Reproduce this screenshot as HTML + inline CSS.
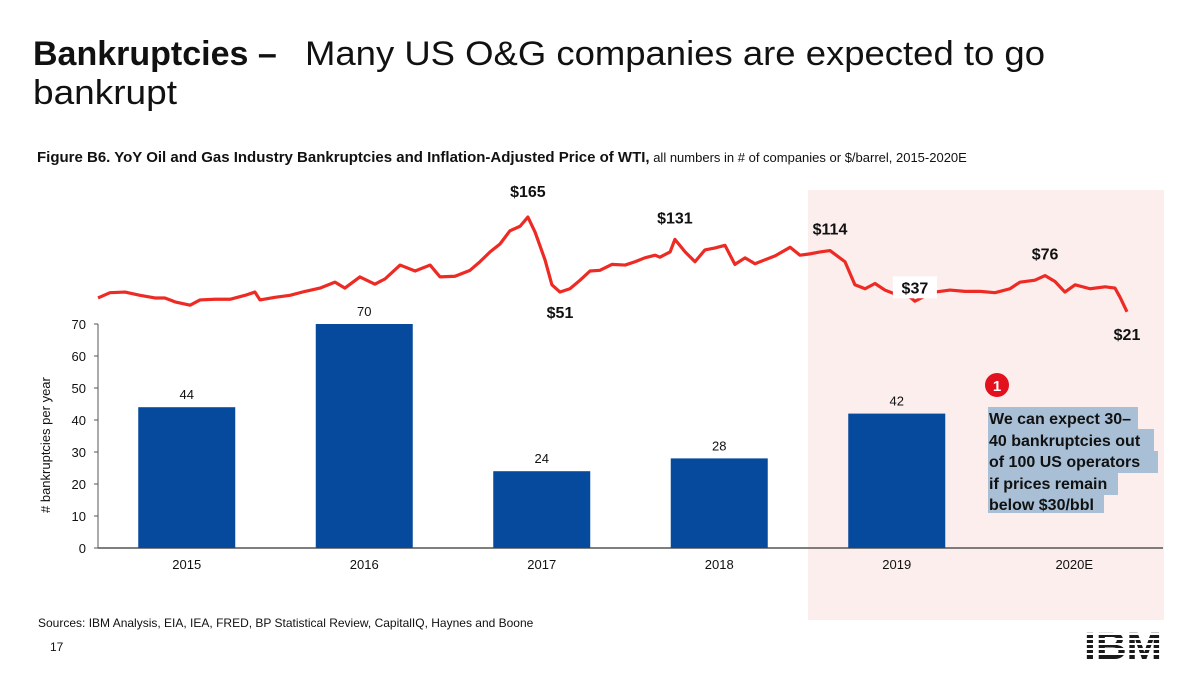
<!DOCTYPE html>
<html><head><meta charset="utf-8"><style>
body{margin:0;background:#fff;font-family:"Liberation Sans",Arial,sans-serif;}
svg text{font-family:"Liberation Sans",Arial,sans-serif;}
</style></head><body>
<svg id="c" width="1200" height="674" viewBox="0 0 1200 674" xmlns="http://www.w3.org/2000/svg">
<rect x="808" y="190" width="356" height="430" fill="#fdeeee"/>
<text x="33" y="65" font-size="34" fill="#111"><tspan font-weight="bold">Bankruptcies –</tspan><tspan x="305" textLength="740" lengthAdjust="spacingAndGlyphs">Many US O&amp;G companies are expected to go</tspan></text>
<text x="33" y="104" font-size="34" fill="#111" textLength="144" lengthAdjust="spacingAndGlyphs">bankrupt</text>
<text x="37" y="162" font-size="15" fill="#111"><tspan font-weight="bold">Figure B6. YoY Oil and Gas Industry Bankruptcies and Inflation-Adjusted Price of WTI,</tspan><tspan font-size="13"> all numbers in # of companies or $/barrel, 2015-2020E</tspan></text>
<g id="axes"></g><g id="bars"></g><g id="line"></g>
<text x="50" y="513" font-size="13" fill="#111" transform="rotate(-90 50 513)"># bankruptcies per year</text>
<circle cx="997" cy="385" r="12" fill="#e3101e"/>
<text x="997" y="391" font-size="15" font-weight="bold" fill="#fff" text-anchor="middle">1</text>
<g fill="#a8bfd6">
<rect x="988" y="407" width="150" height="22"/><rect x="988" y="429" width="166" height="22"/><rect x="988" y="451" width="170" height="22"/><rect x="988" y="473" width="130" height="22"/><rect x="988" y="495" width="116" height="18"/></g>
<text font-size="16" font-weight="bold" fill="#111">
<tspan x="989" y="424">We can expect 30–</tspan><tspan x="989" y="446">40 bankruptcies out</tspan><tspan x="989" y="467">of 100 US operators</tspan><tspan x="989" y="489">if prices remain</tspan><tspan x="989" y="510">below $30/bbl</tspan></text>
<text x="38" y="627" font-size="12" fill="#111">Sources: IBM Analysis, EIA, IEA, FRED, BP Statistical Review, CapitalIQ, Haynes and Boone</text>
<text x="50" y="651" font-size="12" fill="#111">17</text>
<text x="1123" y="659" font-size="38" font-weight="bold" fill="#1a1a1a" text-anchor="middle" textLength="78" lengthAdjust="spacingAndGlyphs">IBM</text>
<g fill="#fff"><rect x="1080" y="628" width="90" height="2"/><rect x="1080" y="633" width="90" height="2"/><rect x="1080" y="638" width="90" height="2"/><rect x="1080" y="643" width="90" height="2"/><rect x="1080" y="648" width="90" height="2"/><rect x="1080" y="653" width="90" height="2"/></g>
</svg>
<script>
const categories=["2015","2016","2017","2018","2019","2020E"];
const bankruptcies=[44,70,24,28,42,null];
const yTicks=[0,10,20,30,40,50,60,70];
const years=[1986.0,1986.4,1986.9,1987.4,1987.9,1988.23,1988.57,1989.07,1989.4,1989.9,1990.4,1990.9,1991.23,1991.4,1991.9,1992.4,1992.9,1993.4,1993.9,1994.23,1994.73,1995.23,1995.57,1996.07,1996.57,1997.07,1997.4,1997.9,1998.4,1998.73,1999.07,1999.4,1999.73,2000.07,2000.33,2000.57,2000.9,2001.13,2001.4,2001.73,2002.07,2002.4,2002.73,2003.13,2003.57,2003.9,2004.23,2004.57,2004.73,2005.07,2005.23,2005.57,2005.9,2006.23,2006.57,2006.9,2007.23,2007.57,2007.9,2008.23,2008.57,2009.07,2009.4,2009.73,2010.07,2010.4,2010.9,2011.23,2011.57,2011.9,2012.23,2012.57,2012.9,2013.23,2013.57,2013.9,2014.4,2014.9,2015.4,2015.9,2016.4,2016.73,2017.23,2017.57,2017.9,2018.23,2018.57,2019.07,2019.57,2019.9,2020.07,2020.3];
const prices=[42,50,51,46,42,42,36,31,39,40,40,46,51,39,43,46,52,57,66,57,74,63,71,92,83,92,74,75,84,97,112,124,144,151,165,142,100,62,51,56,69,83,84,93,92,97,103,107,104,112,131,112,97,115,118,122,93,103,94,100,106,119,107,109,112,114,97,62,56,64,54,48,50,37,45,51,54,52,52,50,56,66,69,76,67,51,62,56,59,57,43,21];
const priceLabels=[{i:34,t:"$165",dy:-20},{i:38,t:"$51",dy:26},{i:50,t:"$131",dy:-16},{i:65,t:"$114",dy:-16},{i:73,t:"$37",dy:-8,bg:1},{i:83,t:"$76",dy:-16},{i:91,t:"$21",dy:28}];
const NS="http://www.w3.org/2000/svg";
const X0=98,X1=1163,Y0=548,YS=3.2;
const band=(X1-X0)/categories.length;
const xCat=i=>X0+band*(i+0.5);
const yBar=v=>Y0-v*YS;
const xT=yr=>98+(yr-1986)*30;
const yP=p=>325.6-0.658*p;
function mk(t,a,p){const e=document.createElementNS(NS,t);for(const k in a)e.setAttribute(k,a[k]);p.appendChild(e);return e;}
const ax=document.getElementById('axes'),bg=document.getElementById('bars'),lg=document.getElementById('line');
let l=mk('line',{x1:X0,x2:X0,y1:yBar(70),y2:Y0,stroke:'#555'},ax);


l=mk('line',{x1:X0,x2:X1,y1:Y0,y2:Y0,stroke:'#555','stroke-width':1.5},ax);


yTicks.forEach(v=>{const t=mk('text',{x:X0-12,y:yBar(v)+5,'font-size':13,'text-anchor':'end',fill:'#111'},ax);t.textContent=v;


const tk=mk('line',{x1:X0-4,x2:X0,y1:yBar(v),y2:yBar(v),stroke:'#555'},ax);

});
categories.forEach((c,i)=>{const t=mk('text',{x:xCat(i),y:569,'font-size':13,'text-anchor':'middle',fill:'#111'},ax);t.textContent=c;


const v=bankruptcies[i];if(v==null)return;
const r=mk('rect',{x:xCat(i)-48.5,y:yBar(v),width:97,height:v*YS,fill:'#054a9c'},bg);


const vt=mk('text',{x:xCat(i),y:yBar(v)-8,'font-size':13,'text-anchor':'middle',fill:'#111'},bg);vt.textContent=v;

});
const pl=mk('polyline',{points:prices.map((p,i)=>xT(years[i])+','+yP(p)).join(' '),fill:'none',stroke:'#ee2a24','stroke-width':3.2,'stroke-linejoin':'round'},lg);


priceLabels.forEach(o=>{const x=xT(years[o.i]),y=yP(prices[o.i])+o.dy;
if(o.bg){const b=mk('rect',{x:x-22,y:y-17,width:44,height:22,fill:'#fff'},lg);}
const t=mk('text',{x:x,y:y,'font-size':16,'font-weight':'bold','text-anchor':'middle',fill:'#111'},lg);t.textContent=o.t;

});
</script>
</body></html>
